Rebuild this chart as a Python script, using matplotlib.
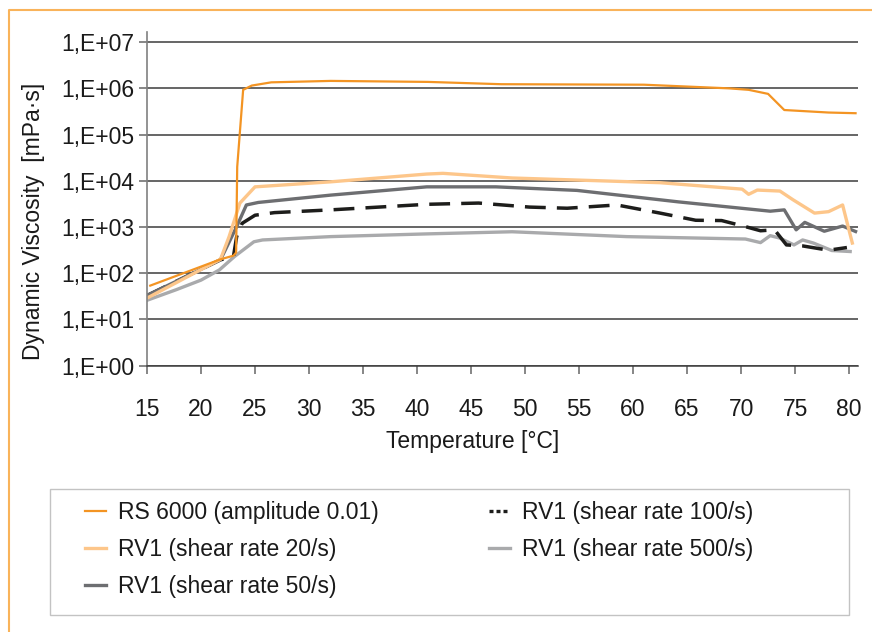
import numpy as np
import matplotlib
matplotlib.use('Agg')
import matplotlib.pyplot as plt
from matplotlib.ticker import FuncFormatter, NullLocator
from matplotlib.lines import Line2D
from matplotlib.patches import Rectangle

plt.rcParams['font.family'] = ['Liberation Sans', 'DejaVu Sans']

# RS 6000 oscillation (amplitude 0.01)
rs_temp = [15.3, 21.8, 23.0, 23.25, 23.35, 23.9, 24.7, 26.5, 32, 41, 47.8, 61,
           68.9, 70.7, 72.5, 74.0, 78.1, 80.6]
rs_visc = [54, 200, 240, 280, 2.0e4, 9.3e5, 1.15e6, 1.35e6, 1.45e6, 1.38e6,
           1.23e6, 1.2e6, 1.0e6, 9.3e5, 7.6e5, 3.4e5, 3.0e5, 2.9e5]

# RV1 shear rate 20/s
rv20_temp = [15, 21.8, 22.6, 23.6, 25, 32, 40.9, 42.4, 48.8, 62.5, 70.1, 70.7,
             71.5, 73.6, 74.8, 76.8, 78.1, 79.4, 80.3]
rv20_visc = [29, 200, 620, 3.3e3, 7.4e3, 9.5e3, 1.4e4, 1.45e4, 1.15e4, 9.1e3,
             6.6e3, 5.1e3, 6.3e3, 6.0e3, 3.9e3, 2.0e3, 2.15e3, 3.0e3, 450]

# RV1 shear rate 50/s
rv50_temp = [15, 21.8, 23.3, 24.2, 25.3, 32, 40.9, 47.3, 54.8, 64.2, 72.7, 74.0,
             75.1, 75.9, 77.7, 79.4, 80.6]
rv50_visc = [33, 195, 1.02e3, 3.0e3, 3.4e3, 4.9e3, 7.4e3, 7.4e3, 6.2e3, 3.5e3,
             2.2e3, 2.35e3, 870, 1.26e3, 810, 1.05e3, 800]

# RV1 shear rate 100/s
rv100_temp = [15, 21.8, 23.0, 23.3, 23.8, 25, 26.8, 32, 40.9, 45.7, 50.4, 53.9,
              58.5, 62.5, 65.8, 68.2, 70.4, 71.8, 73.1, 74.2, 75.7, 78.1, 79.8]
rv100_visc = [33, 195, 230, 620, 1.2e3, 1.8e3, 2.05e3, 2.35e3, 3.1e3, 3.3e3,
              2.7e3, 2.55e3, 3.0e3, 2.0e3, 1.4e3, 1.38e3, 1.02e3, 830, 870, 410,
              390, 315, 360]

# RV1 shear rate 500/s
rv500_temp = [15, 17.7, 20, 21.7, 23.1, 24.9, 25.7, 32, 40.9, 48.8, 59.4, 70.4,
              71.8, 72.7, 73.6, 74.9, 75.7, 76.7, 78.4, 80.1]
rv500_visc = [26, 44, 71, 118, 230, 480, 525, 620, 710, 790, 620, 550, 460, 650,
              575, 410, 525, 450, 310, 295]

x_ticks = list(range(15, 81, 5))
y_ticks = [1e0, 1e1, 1e2, 1e3, 1e4, 1e5, 1e6, 1e7]

labels = ['RS 6000 (amplitude 0.01)', 'RV1 (shear rate 20/s)',
          'RV1 (shear rate 50/s)', 'RV1 (shear rate 100/s)',
          'RV1 (shear rate 500/s)']

text_color = '#1a1a1a'
fs = 16.5

fig = plt.figure(figsize=(8.72, 6.32), dpi=100)
ax = fig.add_axes([0.1686, 0.4214, 0.8154, 0.528])

# draw order: lighter ones under the orange
l500, = ax.plot(rv500_temp, rv500_visc, color='#a9aaac', lw=2.4)
l100, = ax.plot(rv100_temp, rv100_visc, color='#1d1d1b', lw=2.5, dashes=(6, 3.2))
l50, = ax.plot(rv50_temp, rv50_visc, color='#6d6e71', lw=2.4)
l20, = ax.plot(rv20_temp, rv20_visc, color='#fdc68a', lw=2.4)
lrs, = ax.plot(rs_temp, rs_visc, color='#f39423', lw=1.6)

ax.set_yscale('log')
ax.set_ylim(1, 10 ** 7.22)
ax.set_xlim(15, 80.83)
ax.set_yticks(y_ticks)
ax.yaxis.set_minor_locator(NullLocator())
ax.yaxis.set_major_formatter(FuncFormatter(lambda v, pos: '1,E+%02d' % round(np.log10(v))))
ax.set_xticks(x_ticks)

ax.grid(axis='y', color='#3c3c3c', lw=1.1)
ax.set_axisbelow(True)
for side in ['top', 'right']:
    ax.spines[side].set_visible(False)
ax.spines['left'].set_color('#808080')
ax.spines['left'].set_linewidth(1.2)
ax.spines['bottom'].set_color('#3c3c3c')
ax.spines['bottom'].set_linewidth(1.1)

ax.tick_params(axis='both', direction='out', length=6, width=1.1, color='#666666',
               labelsize=fs, labelcolor=text_color)
ax.tick_params(axis='x', pad=17)
ax.tick_params(axis='y', pad=3)

ax.set_xlabel('Temperature [°C]', fontsize=fs, color=text_color)
ax.xaxis.set_label_coords(0.4585, -0.226)
ax.xaxis.label.set_va('center')
ax.set_ylabel('Dynamic Viscosity  [mPa·s]', fontsize=fs, color=text_color)
ax.yaxis.set_label_coords(-0.1603, 0.4336)
ax.yaxis.label.set_va('center')

# legend (dashed entry gets a shorter dash so it reads in the small handle)
dash_proxy = Line2D([], [], color='#1d1d1b', lw=2.4, dashes=(1.2, 0.9))
handles = [lrs, l20, l50, dash_proxy, l500]
leg = ax.legend(handles, labels, ncol=2, loc='upper left',
                bbox_to_anchor=(85 / 872, 1 - 501 / 632), bbox_transform=fig.transFigure,
                frameon=False, fontsize=fs, handlelength=0.9, handletextpad=0.55,
                columnspacing=4.8, labelspacing=0.62, borderpad=0, borderaxespad=0)
for t in leg.get_texts():
    t.set_color(text_color)

fig.add_artist(Rectangle((50 / 872, 1 - 615 / 632), 799 / 872, 126 / 632,
                         transform=fig.transFigure, fill=False,
                         edgecolor='#c3c3c3', lw=1.0))

# thin orange frame along the top and left edge
fig.add_artist(Line2D([9 / 872, 9 / 872, 1], [0, 1 - 10 / 632, 1 - 10 / 632],
                      transform=fig.transFigure, color='#f9b35a', lw=1.5))

plt.savefig('out.png', dpi=100)
